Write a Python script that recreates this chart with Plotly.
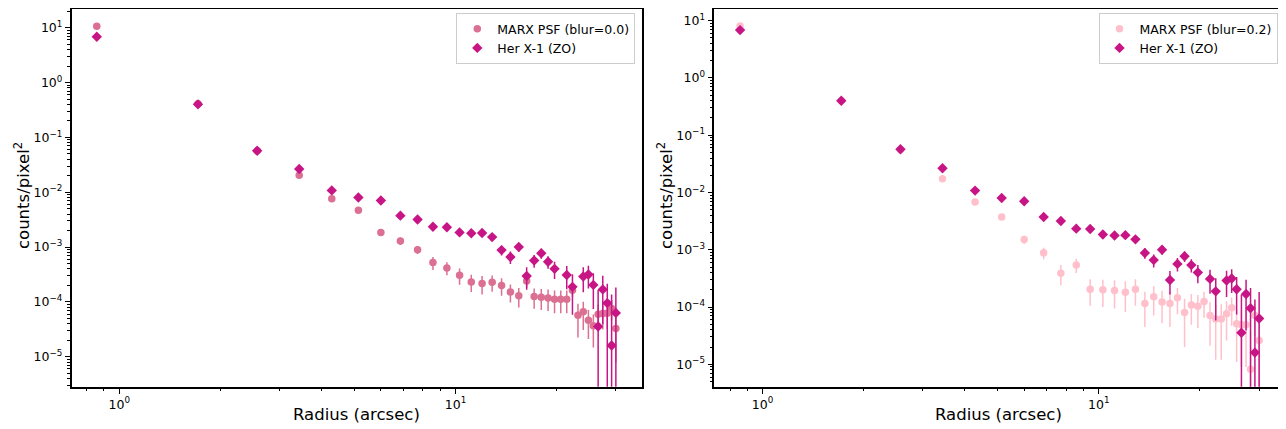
import plotly.graph_objects as go

# ---------------- data ----------------
radius = [0.857, 1.714, 2.571, 3.429, 4.286, 5.143, 6.0, 6.857, 7.714, 8.571,
          9.429, 10.286, 11.143, 12.0, 12.857, 13.714, 14.571, 15.429, 16.286, 17.143,
          18.0, 18.857, 19.714, 20.571, 21.429, 22.286, 23.143, 24.0, 24.857, 25.714,
          26.571, 27.429, 28.286, 29.143, 30.0]

her = [6.85, 0.40, 0.057, 0.0265, 0.0108, 0.0080, 0.00705, 0.00374, 0.00318, 0.00234,
       0.0023, 0.00185, 0.00178, 0.0018, 0.00152, 0.00088, 0.00066, 0.0010, 0.000296, 0.000567,
       0.00077, 0.00054, 0.00040, -0.00010, 0.00031, 0.000188, -0.00007, 0.00029, 0.000315, 0.000204,
       3.55e-5, 0.000169, 9.5e-5, 1.6e-5, 6.3e-5]
her_err = [0.3, 0.03, 0.006, 0.003, 0.0012, 0.0008, 0.0006, 0.0004, 0.00035, 0.0003,
           0.0003, 0.00025, 0.00022, 0.00022, 0.0002, 0.00018, 0.00017, 0.00018, 0.00013, 0.00015,
           0.00016, 0.00014, 0.00014, 0.000148, 0.00014, 0.00013, 0.00015, 0.00014, 0.00014, 0.00013,
           0.00013, 0.00013, 0.00012, 0.00012, 0.00012]

marx0 = [10.6, 0.41, 0.057, 0.0204, 0.0076, 0.00471, 0.00185, 0.00129, 0.000897, 0.00052,
         0.000416, 0.000305, 0.000231, 0.000216, 0.000228, 0.000199, 0.000152, 0.000129, 0.000241, 0.000125,
         0.000121, 0.000118, 0.000112, 0.000112, 0.000112, 0.000163, 5.73e-5, 6.58e-5, 4.6e-5, 3.67e-5,
         5.97e-5, 6.15e-5, 6.23e-5, 7.59e-5, 3.28e-5]
marx0_err = [0.1, 0.01, 0.002, 0.001, 0.0005, 0.0003, 0.00024, 0.0002, 0.00015, 0.00014,
             0.00011, 0.0001, 8e-5, 8e-5, 7.5e-5, 7e-5, 5.5e-5, 5e-5, 6e-5, 5e-5,
             5e-5, 5e-5, 5e-5, 5e-5, 5e-5, 4e-5, 3.5e-5, 3.5e-5, 2.5e-5, 2.2e-5,
             3e-5, 3e-5, 3e-5, 3e-5, 2.5e-5]

marx2 = [8.08, 0.40, 0.056, 0.0173, 0.00686, 0.00375, 0.00151, 0.000883, 0.000391, 0.000544,
         0.000205, 0.0002, 0.000194, 0.000182, 0.000205, 0.000115, 0.000151, 0.000122, 0.000115, 0.000145,
         8.0e-5, 0.000109, 0.000103, 0.000125, 7.1e-5, 6.2e-5, 6.2e-5, 7.6e-5, 9.7e-5, 5.1e-5,
         4.9e-5, 4.9e-5, 8.2e-6, 7.1e-5, 2.6e-5]
marx2_err = [0.1, 0.01, 0.002, 0.001, 0.0005, 0.0003, 0.00025, 0.0002, 0.00015, 0.00015,
             0.0001, 0.0001, 0.0001, 0.0001, 0.0001, 7e-5, 8e-5, 7e-5, 7e-5, 7e-5,
             6e-5, 6e-5, 6e-5, 6e-5, 5e-5, 5e-5, 5e-5, 5e-5, 5e-5, 4e-5,
             4e-5, 4e-5, 3e-5, 4e-5, 3e-5]

label_marx0 = "MARX PSF (blur=0.0)"
label_marx2 = "MARX PSF (blur=0.2)"
label_her = "Her X-1 (ZO)"
x_title = "Radius (arcsec)"
y_title = "counts/pixel<sup>2</sup>"

C_HER = "#C71585"
C_M0 = "#DB7093"
C_M2 = "#FFC0CB"

# the page adds an 8 px body margin, so the figure is placed at (8, 8)
OFF = 8
W, H = 1286 - OFF, 429 - OFF
FONT = "DejaVu Sans"

fig = go.Figure()


def add(x, y, e, color, symbol, size, name, xa, ya, leg):
    fig.add_trace(go.Scatter(
        x=x, y=y, mode="markers", name=name,
        marker=dict(color=color, symbol=symbol, size=size, line=dict(width=0)),
        error_y=dict(type="data", array=e, visible=True, color=color, thickness=1.5, width=0),
        xaxis=xa, yaxis=ya, legend=leg, cliponaxis=True,
    ))


add(radius, marx0, marx0_err, C_M0, "circle", 7.5, label_marx0, "x", "y", "legend")
add(radius, her, her_err, C_HER, "diamond", 8, label_her, "x", "y", "legend")
add(radius, marx2, marx2_err, C_M2, "circle", 7.5, label_marx2, "x2", "y2", "legend2")
add(radius, her, her_err, C_HER, "diamond", 8, label_her, "x2", "y2", "legend2")

exps = list(range(-5, 2))
ytv = [10.0 ** e for e in exps]
ytt = ["10<sup>%s%d</sup>" % ("\u2212" if e < 0 else "", abs(e)) for e in exps]
yminor = [m * 10.0 ** e for e in range(-6, 2) for m in range(2, 10)]
xtv = [1, 10]
xtt = ["10<sup>0</sup>", "10<sup>1</sup>"]
xminor = [m * 10.0 ** e for e in (-1, 0, 1) for m in range(2, 10)]


def fx(p):
    return (p - OFF) / W


def fy(p):
    return 1 - (p - OFF) / H


minor_style = dict(tickmode="array", ticks="outside", ticklen=2.5, tickwidth=0.9, tickcolor="black")
axis_common = dict(
    type="log", showgrid=False, zeroline=False, showline=True, linecolor="black",
    linewidth=1.6, mirror=True, ticks="outside", ticklen=5, tickwidth=1.1, tickcolor="black",
    tickfont=dict(family=FONT, size=12.5, color="black"), automargin=False,
)

xl = (71.7, 641.7)
xr = (714.3, 1283.3)
yd = [fy(386.7), fy(9.3)]

legend_common = dict(xanchor="right", yanchor="top", bgcolor="white", bordercolor="#cccccc",
                     borderwidth=1, font=dict(family=FONT, size=12.5, color="black"),
                     tracegroupgap=0, itemwidth=30)

fig.update_layout(
    width=W, height=H, margin=dict(l=0, r=0, t=0, b=0),
    paper_bgcolor="white", plot_bgcolor="white",
    font=dict(family=FONT, color="black"),
    xaxis=dict(axis_common, domain=[fx(xl[0]), fx(xl[1])], range=[-0.1416, 1.554],
               tickmode="array", tickvals=xtv, ticktext=xtt, anchor="y",
               minor=dict(minor_style, tickvals=xminor)),
    yaxis=dict(axis_common, domain=yd, range=[-5.547, 1.336],
               tickmode="array", tickvals=ytv, ticktext=ytt, anchor="x",
               minor=dict(minor_style, tickvals=yminor)),
    xaxis2=dict(axis_common, domain=[fx(xr[0]), fx(xr[1])], range=[-0.1437, 1.549],
                tickmode="array", tickvals=xtv, ticktext=xtt, anchor="y2",
                minor=dict(minor_style, tickvals=xminor)),
    yaxis2=dict(axis_common, domain=yd, range=[-5.391, 1.199],
                tickmode="array", tickvals=ytv, ticktext=ytt, anchor="x2",
                minor=dict(minor_style, tickvals=yminor)),
    legend=dict(legend_common, x=fx(635.3), y=fy(13)),
    legend2=dict(legend_common, x=fx(1277.5), y=fy(13)),
)

annos = [
    dict(text=x_title, x=fx((xl[0] + xl[1]) / 2), y=fy(414)),
    dict(text=x_title, x=fx((xr[0] + xr[1]) / 2), y=fy(414)),
    dict(text=y_title, x=fx(22), y=fy(196), textangle=-90),
    dict(text=y_title, x=fx(665), y=fy(196), textangle=-90),
]
for a in annos:
    fig.add_annotation(xref="paper", yref="paper", xanchor="center", yanchor="middle",
                       showarrow=False, font=dict(family=FONT, size=16.5, color="black"), **a)

fig.write_html("out.html")
